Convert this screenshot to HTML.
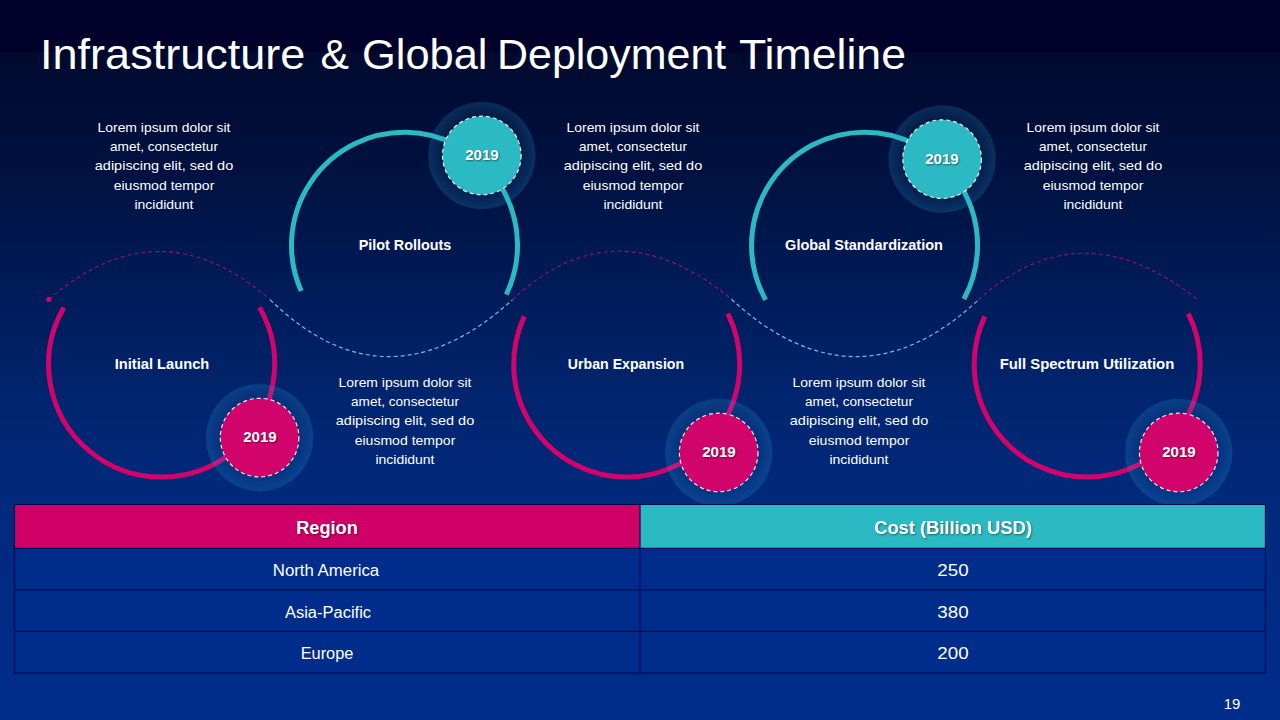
<!DOCTYPE html>
<html>
<head>
<meta charset="utf-8">
<title>Infrastructure &amp; Global Deployment Timeline</title>
<style>
html,body{margin:0;padding:0;}
body{width:1280px;height:720px;overflow:hidden;position:relative;font-family:"Liberation Sans",sans-serif;color:#fff;background:#002d8b;}
#bg{position:absolute;left:0;top:0;width:1280px;height:720px;
background:linear-gradient(to bottom,#00002b 0px,#00002b 51.4px,#000a2e 51.8px,#000c34 100px,#001446 200px,#001c5a 300px,#01256f 400px,#01297b 490px,#002b84 600px,#002d8b 710px);}
svg{position:absolute;left:0;top:0;}
.t{position:absolute;white-space:nowrap;line-height:1;transform-origin:0 0;}
.c{position:absolute;white-space:nowrap;line-height:1;text-align:center;transform-origin:50% 0;}
.b{font-weight:700;}
.sh{font-weight:700;text-shadow:1px 1px 2px rgba(0,0,0,.45);}
.cell{position:absolute;box-sizing:border-box;border:1px solid #020f5c;}
</style>
</head>
<body>
<div id="bg"></div>
<svg width="1280" height="720" viewBox="0 0 1280 720">
<defs><radialGradient id="glow" cx="50%" cy="50%" r="50%">
<stop offset="0.68" stop-color="#2da5dc" stop-opacity="0.07"/>
<stop offset="0.86" stop-color="#2da5dc" stop-opacity="0.15"/>
<stop offset="0.975" stop-color="#2da5dc" stop-opacity="0.21"/>
<stop offset="1" stop-color="#2da5dc" stop-opacity="0"/>
</radialGradient></defs>
<g fill="none" stroke-width="1.1" stroke="#a2168a" stroke-opacity="0.85" stroke-dasharray="4 3">
<path d="M48.8 299.5 Q 159.4 203.5 270 299.6"/>
<path d="M512.2 300 Q 615.2 202.9 731.4 299.2"/>
<path d="M978.3 299.9 Q 1080.5 207.1 1196.8 298.9"/>
</g>
<g fill="none" stroke-width="1.2" stroke="#6cc0f0" stroke-dasharray="4 3">
<path d="M270 299.6 Q 386.4 413.4 512.2 300"/>
<path d="M731.4 299.2 Q 856.35 413.65 978.3 299.9"/>
</g>
<circle cx="48.8" cy="299.3" r="2.6" fill="#d1046c"/>
<g fill="none" stroke-width="5">
<path d="M259.46 307.60 A113 113 0 1 1 63.84 307.43" stroke="#d1046c"/>
<path d="M301.19 291.08 A113 113 0 1 1 506.24 294.48" stroke="#2bb9c4"/>
<path d="M727.83 313.68 A113 113 0 1 1 524.29 316.34" stroke="#d1046c"/>
<path d="M765.62 299.91 A113 113 0 1 1 963.95 299.05" stroke="#2bb9c4"/>
<path d="M1188.33 313.68 A113 113 0 1 1 984.79 316.34" stroke="#d1046c"/>
</g>
<g fill="url(#glow)">
<circle cx="259.6" cy="437.6" r="54.3"/>
<circle cx="481.8" cy="155.5" r="54.3"/>
<circle cx="718.7" cy="452.5" r="54.3"/>
<circle cx="942.1" cy="159.1" r="54.3"/>
<circle cx="1178.7" cy="452.5" r="54.3"/>
</g>
<g stroke="#fff" stroke-opacity="0.9" stroke-width="1.2" stroke-dasharray="4 3">
<circle cx="259.6" cy="437.6" r="39.3" fill="#d1046c"/>
<circle cx="481.8" cy="155.5" r="39.3" fill="#2bb9c4"/>
<circle cx="718.7" cy="452.5" r="39.3" fill="#d1046c"/>
<circle cx="942.1" cy="159.1" r="39.3" fill="#2bb9c4"/>
<circle cx="1178.7" cy="452.5" r="39.3" fill="#d1046c"/>
</g></svg>
<svg width="1280" height="720" viewBox="0 0 1280 720">
<rect x="14.5" y="504.5" width="1250.9" height="168.6" fill="#002d8b"/>
<rect x="14.5" y="504.5" width="625.55" height="43.89999999999998" fill="#cf0068"/>
<rect x="640.05" y="504.5" width="625.3500000000001" height="43.89999999999998" fill="#2bbac4"/>
<g stroke="#000952" stroke-width="1.1" fill="none">
<path d="M13.9 504.5 H1266.0"/>
<path d="M13.9 548.4 H1266.0"/>
<path d="M13.9 590.0 H1266.0"/>
<path d="M13.9 631.4 H1266.0"/>
<path d="M13.9 673.1 H1266.0"/>
<path d="M14.5 504.5 V673.1"/>
<path d="M640.05 504.5 V673.1"/>
<path d="M1265.4 504.5 V673.1"/>
</g></svg>
<div class="t " style="left:39.50px;top:32.88px;font-size:42.67px;transform:scaleX(1.056);">Infrastructure</div>
<div class="t " style="left:320.50px;top:32.88px;font-size:42.67px;transform:scaleX(1.0);">&amp;</div>
<div class="t " style="left:362.25px;top:32.88px;font-size:42.67px;transform:scaleX(1.017);">Global</div>
<div class="t " style="left:497.25px;top:32.88px;font-size:42.67px;transform:scaleX(1.007);">Deployment</div>
<div class="t " style="left:738.50px;top:32.88px;font-size:42.67px;transform:scaleX(1.046);">Timeline</div>
<div class="c b" style="left:-38.00px;width:400px;top:356.45px;font-size:15.3px;transform:scaleX(0.959);">Initial Launch</div>
<div class="c b" style="left:204.85px;width:400px;top:237.05px;font-size:15.3px;transform:scaleX(0.94);">Pilot Rollouts</div>
<div class="c b" style="left:426.00px;width:400px;top:356.45px;font-size:15.3px;transform:scaleX(0.924);">Urban Expansion</div>
<div class="c b" style="left:664.10px;width:400px;top:237.05px;font-size:15.3px;transform:scaleX(0.947);">Global Standardization</div>
<div class="c b" style="left:887.20px;width:400px;top:356.45px;font-size:15.3px;transform:scaleX(0.974);">Full Spectrum Utilization</div>
<div class="c sh" style="left:59.85px;width:400px;top:429.23px;font-size:15.2px;transform:scaleX(0.99);">2019</div>
<div class="c sh" style="left:281.85px;width:400px;top:147.23px;font-size:15.2px;transform:scaleX(0.99);">2019</div>
<div class="c sh" style="left:518.85px;width:400px;top:444.13px;font-size:15.2px;transform:scaleX(0.99);">2019</div>
<div class="c sh" style="left:742.20px;width:400px;top:151.03px;font-size:15.2px;transform:scaleX(0.99);">2019</div>
<div class="c sh" style="left:978.85px;width:400px;top:444.13px;font-size:15.2px;transform:scaleX(0.99);">2019</div>
<div class="c " style="left:-35.80px;width:400px;top:120.82px;font-size:13.5px;transform:scaleX(1.03);">Lorem ipsum dolor sit</div>
<div class="c " style="left:-35.80px;width:400px;top:139.82px;font-size:13.5px;transform:scaleX(1.005);">amet, consectetur</div>
<div class="c " style="left:-35.80px;width:400px;top:158.82px;font-size:13.5px;transform:scaleX(1.072);">adipiscing elit, sed do</div>
<div class="c " style="left:-35.80px;width:400px;top:178.82px;font-size:13.5px;transform:scaleX(1.04);">eiusmod tempor</div>
<div class="c " style="left:-35.80px;width:400px;top:197.82px;font-size:13.5px;transform:scaleX(1.035);">incididunt</div>
<div class="c " style="left:433.30px;width:400px;top:120.82px;font-size:13.5px;transform:scaleX(1.03);">Lorem ipsum dolor sit</div>
<div class="c " style="left:433.30px;width:400px;top:139.82px;font-size:13.5px;transform:scaleX(1.005);">amet, consectetur</div>
<div class="c " style="left:433.30px;width:400px;top:158.82px;font-size:13.5px;transform:scaleX(1.072);">adipiscing elit, sed do</div>
<div class="c " style="left:433.30px;width:400px;top:178.82px;font-size:13.5px;transform:scaleX(1.04);">eiusmod tempor</div>
<div class="c " style="left:433.30px;width:400px;top:197.82px;font-size:13.5px;transform:scaleX(1.035);">incididunt</div>
<div class="c " style="left:893.30px;width:400px;top:120.82px;font-size:13.5px;transform:scaleX(1.03);">Lorem ipsum dolor sit</div>
<div class="c " style="left:893.30px;width:400px;top:139.82px;font-size:13.5px;transform:scaleX(1.005);">amet, consectetur</div>
<div class="c " style="left:893.30px;width:400px;top:158.82px;font-size:13.5px;transform:scaleX(1.072);">adipiscing elit, sed do</div>
<div class="c " style="left:893.30px;width:400px;top:178.82px;font-size:13.5px;transform:scaleX(1.04);">eiusmod tempor</div>
<div class="c " style="left:893.30px;width:400px;top:197.82px;font-size:13.5px;transform:scaleX(1.035);">incididunt</div>
<div class="c " style="left:205.25px;width:400px;top:375.82px;font-size:13.5px;transform:scaleX(1.03);">Lorem ipsum dolor sit</div>
<div class="c " style="left:205.25px;width:400px;top:394.82px;font-size:13.5px;transform:scaleX(1.005);">amet, consectetur</div>
<div class="c " style="left:205.25px;width:400px;top:413.82px;font-size:13.5px;transform:scaleX(1.072);">adipiscing elit, sed do</div>
<div class="c " style="left:205.25px;width:400px;top:433.82px;font-size:13.5px;transform:scaleX(1.04);">eiusmod tempor</div>
<div class="c " style="left:205.25px;width:400px;top:452.82px;font-size:13.5px;transform:scaleX(1.035);">incididunt</div>
<div class="c " style="left:659.25px;width:400px;top:375.82px;font-size:13.5px;transform:scaleX(1.03);">Lorem ipsum dolor sit</div>
<div class="c " style="left:659.25px;width:400px;top:394.82px;font-size:13.5px;transform:scaleX(1.005);">amet, consectetur</div>
<div class="c " style="left:659.25px;width:400px;top:413.82px;font-size:13.5px;transform:scaleX(1.072);">adipiscing elit, sed do</div>
<div class="c " style="left:659.25px;width:400px;top:433.82px;font-size:13.5px;transform:scaleX(1.04);">eiusmod tempor</div>
<div class="c " style="left:659.25px;width:400px;top:452.82px;font-size:13.5px;transform:scaleX(1.035);">incididunt</div>
<div class="c sh" style="left:127.00px;width:400px;top:520.30px;font-size:17.6px;transform:scaleX(1.035);">Region</div>
<div class="c sh" style="left:753.30px;width:400px;top:519.80px;font-size:17.6px;transform:scaleX(1.04);">Cost (Billion USD)</div>
<div class="c " style="left:126.00px;width:400px;top:562.76px;font-size:16px;transform:scaleX(1.05);">North America</div>
<div class="c " style="left:127.55px;width:400px;top:604.66px;font-size:16px;transform:scaleX(1.03);">Asia-Pacific</div>
<div class="c " style="left:127.10px;width:400px;top:645.66px;font-size:16px;transform:scaleX(1.022);">Europe</div>
<div class="c " style="left:753.00px;width:400px;top:562.76px;font-size:16px;transform:scaleX(1.17);">250</div>
<div class="c " style="left:753.00px;width:400px;top:604.66px;font-size:16px;transform:scaleX(1.17);">380</div>
<div class="c " style="left:753.00px;width:400px;top:645.66px;font-size:16px;transform:scaleX(1.17);">200</div>
<div class="c " style="left:1031.60px;width:400px;top:697.38px;font-size:14.2px;transform:scaleX(1.05);">19</div>
</body>
</html>
